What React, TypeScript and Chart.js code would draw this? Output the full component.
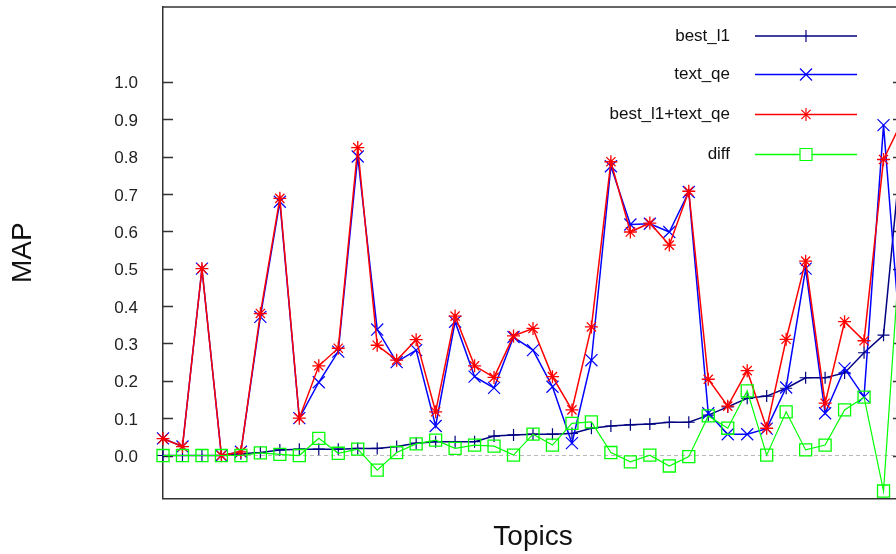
import React, { useEffect, useRef } from "react";
import { Chart, registerables } from "chart.js";

Chart.register(...registerables);

const topics = ["1","2","3","4","5","6","7","8","9","10","11","12","13","14","15","16","17","18","19","20","21","22","23","24","25","26","27","28","29","30","31","32","33","34","35","36","37","38","39"];

const bestL1 = [0, 0, 0, 0, 0.005, 0.008, 0.015, 0.017, 0.017, 0.017, 0.019, 0.019, 0.024, 0.033, 0.037, 0.037, 0.037, 0.052, 0.055, 0.057, 0.057, 0.059, 0.073, 0.079, 0.082, 0.084, 0.089, 0.089, 0.108, 0.13, 0.153, 0.159, 0.18, 0.208, 0.208, 0.221, 0.275, 0.322, 0.864];

const textQe = [0.046, 0.024, 0.5, 0, 0.01, 0.371, 0.679, 0.1, 0.196, 0.278, 0.8, 0.337, 0.25, 0.282, 0.079, 0.358, 0.211, 0.181, 0.317, 0.282, 0.184, 0.033, 0.255, 0.774, 0.618, 0.62, 0.598, 0.705, 0.113, 0.057, 0.057, 0.072, 0.182, 0.5, 0.113, 0.233, 0.157, 0.884, 0.223];

const combined = [0.045, 0.024, 0.5, 0, 0.01, 0.38, 0.688, 0.1, 0.24, 0.287, 0.824, 0.295, 0.255, 0.31, 0.117, 0.373, 0.24, 0.209, 0.32, 0.34, 0.211, 0.122, 0.344, 0.786, 0.598, 0.622, 0.563, 0.707, 0.204, 0.132, 0.227, 0.073, 0.311, 0.52, 0.14, 0.358, 0.307, 0.792, 0.9];

const diff = [0, 0, 0, 0, 0, 0.007, 0.003, 0, 0.046, 0.006, 0.017, -0.039, 0.008, 0.031, 0.041, 0.019, 0.028, 0.025, 0.001, 0.057, 0.028, 0.086, 0.09, 0.008, -0.017, 0.001, -0.028, -0.003, 0.106, 0.073, 0.173, 0.001, 0.117, 0.015, 0.028, 0.122, 0.156, -0.095, 0.67];

const yTicks = [0, 0.1, 0.2, 0.3, 0.4, 0.5, 0.6, 0.7, 0.8, 0.9, 1.0];

const seriesNames = ["best_l1", "text_qe", "best_l1+text_qe", "diff"];

const FONT = '"Liberation Sans", Arial, sans-serif';
const NAVY = "#000080";
const BLUE = "#0000ff";
const RED = "#ff0000";
const GREEN = "#00ff00";

function drawMarker(ctx: CanvasRenderingContext2D, kind: string, x: number, y: number, color: string) {
  ctx.save();
  ctx.strokeStyle = color;
  ctx.lineWidth = 1.2;
  ctx.beginPath();
  if (kind === "plus") {
    ctx.moveTo(x, y - 6); ctx.lineTo(x, y + 6);
  } else if (kind === "x") {
    ctx.moveTo(x - 6, y - 6); ctx.lineTo(x + 6, y + 6);
    ctx.moveTo(x - 6, y + 6); ctx.lineTo(x + 6, y - 6);
  } else if (kind === "star") {
    ctx.moveTo(x, y - 6.5); ctx.lineTo(x, y + 6.5);
    ctx.moveTo(x - 6.5, y); ctx.lineTo(x + 6.5, y);
    ctx.moveTo(x - 4.6, y - 4.6); ctx.lineTo(x + 4.6, y + 4.6);
    ctx.moveTo(x - 4.6, y + 4.6); ctx.lineTo(x + 4.6, y - 4.6);
  } else if (kind === "rect") {
    ctx.rect(x - 6, y - 6, 12, 12);
  }
  ctx.stroke();
  ctx.restore();
}

const framePlugin = {
  id: "frame",
  beforeDatasetsDraw(chart: any) {
    const { ctx, chartArea: a, scales } = chart;
    const y = scales.y;
    ctx.save();
    const y0 = y.getPixelForValue(0);
    ctx.strokeStyle = "#b8b8b8";
    ctx.lineWidth = 1;
    ctx.setLineDash([4, 3]);
    ctx.beginPath();
    ctx.moveTo(a.left, y0);
    ctx.lineTo(a.right, y0);
    ctx.stroke();
    ctx.setLineDash([]);
    ctx.strokeStyle = "#333333";
    ctx.lineWidth = 1.5;
    ctx.beginPath();
    ctx.moveTo(a.left, a.top);
    ctx.lineTo(a.right, a.top);
    ctx.lineTo(a.right, a.bottom);
    ctx.stroke();
    ctx.beginPath();
    for (const v of yTicks) {
      const py = Math.round(y.getPixelForValue(v)) + 0.5;
      ctx.moveTo(a.left, py);
      ctx.lineTo(a.left + 10, py);
      ctx.moveTo(a.right, py);
      ctx.lineTo(a.right - 10, py);
    }
    ctx.stroke();
    ctx.restore();
  },
};

const legendPlugin = {
  id: "customLegend",
  afterDatasetsDraw(chart: any) {
    const { ctx } = chart;
    const rows = [
      { color: NAVY, kind: "plus", y: 36 },
      { color: BLUE, kind: "x", y: 74.5 },
      { color: RED, kind: "star", y: 114.5 },
      { color: GREEN, kind: "rect", y: 154.5 },
    ];
    ctx.save();
    rows.forEach((r, i) => {
      ctx.font = `17px ${FONT}`;
      ctx.fillStyle = "#111111";
      ctx.textAlign = "right";
      ctx.textBaseline = "middle";
      ctx.fillText(seriesNames[i], 730, r.y);
      ctx.strokeStyle = r.color;
      ctx.lineWidth = 1.5;
      ctx.beginPath();
      ctx.moveTo(755, r.y);
      ctx.lineTo(857, r.y);
      ctx.stroke();
      if (r.kind === "rect") {
        ctx.fillStyle = "#ffffff";
        ctx.fillRect(800, r.y - 6, 12, 12);
      }
      drawMarker(ctx, r.kind, 806, r.y, r.color);
    });
    ctx.restore();
  },
};

export default function App() {
  const ref = useRef<HTMLCanvasElement | null>(null);

  useEffect(() => {
    if (!ref.current) return;
    const chart = new Chart(ref.current, {
      type: "line",
      data: {
        labels: topics,
        datasets: [
          {
            label: seriesNames[0],
            data: bestL1,
            borderColor: NAVY,
            backgroundColor: NAVY,
            borderWidth: 1.5,
            pointStyle: "cross",
            pointRadius: 6,
            pointBorderWidth: 1.2,
            pointBorderColor: NAVY,
            tension: 0,
            order: 4,
          },
          {
            label: seriesNames[1],
            data: textQe,
            borderColor: BLUE,
            backgroundColor: BLUE,
            borderWidth: 1.5,
            pointStyle: "crossRot",
            pointRadius: 8.5,
            pointBorderWidth: 1.2,
            pointBorderColor: BLUE,
            tension: 0,
            order: 3,
          },
          {
            label: seriesNames[2],
            data: combined,
            borderColor: RED,
            backgroundColor: RED,
            borderWidth: 1.5,
            pointStyle: "star",
            pointRadius: 6.5,
            pointBorderWidth: 1.3,
            pointBorderColor: RED,
            tension: 0,
            order: 2,
          },
          {
            label: seriesNames[3],
            data: diff,
            borderColor: GREEN,
            backgroundColor: "rgba(0,0,0,0)",
            borderWidth: 1.2,
            pointStyle: "rect",
            pointRadius: 8.5,
            pointBorderWidth: 1.3,
            pointBorderColor: GREEN,
            pointBackgroundColor: "rgba(0,0,0,0)",
            tension: 0,
            order: 1,
          },
        ],
      },
      options: {
        responsive: false,
        animation: false,
        events: [],
        layout: { autoPadding: false, padding: { top: 7, right: 9, bottom: 0, left: 0 } },
        plugins: {
          legend: { display: false },
          title: { display: false },
          subtitle: { display: false },
          tooltip: { enabled: false },
        },
        scales: {
          x: {
            type: "category",
            offset: false,
            ticks: { display: false },
            grid: { display: false, drawTicks: false },
            border: { display: true, color: "#333333", width: 1.5 },
            title: {
              display: true,
              text: "Topics",
              color: "#111111",
              font: { family: FONT, size: 28 },
              padding: { top: 0, bottom: 0 },
            },
            afterFit: (s: any) => {
              s.height = 55.5;
              s.paddingLeft = 0;
              s.paddingRight = 0;
              s.paddingTop = 0;
              s.paddingBottom = 0;
            },
          },
          y: {
            type: "linear",
            min: -0.115,
            max: 1.2,
            afterBuildTicks: (s: any) => {
              s.ticks = yTicks.map((v) => ({ value: v }));
            },
            afterFit: (s: any) => {
              s.width = 163;
              s.paddingTop = 0;
              s.paddingBottom = 0;
              s.paddingLeft = 0;
              s.paddingRight = 0;
            },
            ticks: {
              callback: (v: any) => Number(v).toFixed(1),
              color: "#222222",
              font: { family: FONT, size: 17 },
              padding: 25,
              labelOffset: 2,
            },
            grid: { display: false, drawTicks: false },
            border: { display: true, color: "#333333", width: 1.5 },
            title: {
              display: true,
              text: "MAP",
              color: "#111111",
              font: { family: FONT, size: 28 },
              padding: { top: 6, bottom: 0 },
            },
          },
        },
      },
      plugins: [framePlugin, legendPlugin],
    });
    return () => chart.destroy();
  }, []);

  return (
    <div
      style={{
        position: "absolute",
        left: 0,
        top: 0,
        width: 896,
        height: 554,
        overflow: "hidden",
        background: "#ffffff",
      }}
    >
      <canvas ref={ref} width={912} height={554} style={{ display: "block", width: 912, height: 554 }} />
    </div>
  );
}
